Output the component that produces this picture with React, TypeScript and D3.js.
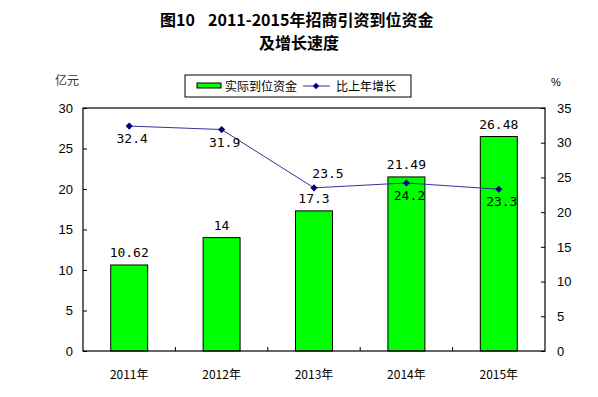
import { useEffect, useRef } from "react";
import * as d3 from "d3";

const years = ["2011年", "2012年", "2013年", "2014年", "2015年"];
const funds = [10.62, 14, 17.3, 21.49, 26.48];
const growth = [32.4, 31.9, 23.5, 24.2, 23.3];
const fundLabels = ["10.62", "14", "17.3", "21.49", "26.48"];
const growthLabels = ["32.4", "31.9", "23.5", "24.2", "23.3"];
const leftTicks = [0, 5, 10, 15, 20, 25, 30];
const rightTicks = [0, 5, 10, 15, 20, 25, 30, 35];

const W = 598;
const H = 397;
const margin = { top: 108, right: 53, bottom: 46, left: 83 };

export default function App() {
  const svgRef = useRef<SVGSVGElement | null>(null);

  useEffect(() => {
    if (!svgRef.current) return;
    const svg = d3.select(svgRef.current);
    svg.selectAll("*").remove();

    const innerW = W - margin.left - margin.right;
    const innerH = H - margin.top - margin.bottom;
    const axisFont = "'Liberation Sans', Arial, sans-serif";
    const numFont = "'DejaVu Sans Mono', monospace";
    const cjk = "'Noto Sans CJK SC', sans-serif";

    svg.append("rect").attr("width", W).attr("height", H).attr("fill", "#fff");

    // title
    const title = svg.append("g").attr("font-family", cjk).attr("font-weight", "bold").attr("font-size", 16).attr("fill", "#000");
    title.append("text").attr("x", 160).attr("y", 26).text("图10");
    title.append("text").attr("x", 208).attr("y", 26).text("2011-2015年招商引资到位资金");
    title.append("text").attr("x", 299).attr("y", 49).attr("text-anchor", "middle").text("及增长速度");

    const x = d3.scaleBand().domain(years).range([0, innerW]).paddingInner(0.6).paddingOuter(0.3);
    const yL = d3.scaleLinear().domain([0, 30]).range([innerH, 0]);
    const yR = d3.scaleLinear().domain([0, 35]).range([innerH, 0]);

    const g = svg.append("g").attr("transform", `translate(${margin.left},${margin.top})`);

    // bars
    g.selectAll("rect.bar")
      .data(funds)
      .enter()
      .append("rect")
      .attr("class", "bar")
      .attr("x", (_d, i) => x(years[i])!)
      .attr("y", (d) => yL(d))
      .attr("width", x.bandwidth())
      .attr("height", (d) => innerH - yL(d))
      .attr("fill", "#00ff00")
      .attr("stroke", "#000")
      .attr("stroke-width", 1);

    g.selectAll("text.blab")
      .data(funds)
      .enter()
      .append("text")
      .attr("x", (_d, i) => x(years[i])! + x.bandwidth() / 2)
      .attr("y", (d) => yL(d) - 8)
      .attr("text-anchor", "middle")
      .attr("font-family", numFont)
      .attr("font-size", 13)
      .text((_d, i) => fundLabels[i]);

    // frame
    g.append("rect")
      .attr("width", innerW)
      .attr("height", innerH)
      .attr("fill", "none")
      .attr("stroke", "#000")
      .attr("stroke-width", 1.2);

    // left axis
    const la = g.append("g").call(d3.axisLeft(yL).tickValues(leftTicks).tickSizeInner(-4).tickSizeOuter(0).tickPadding(10));
    la.select(".domain").remove();
    la.selectAll("text").attr("font-family", axisFont).attr("font-size", 13).attr("fill", "#000");

    // right axis
    const ra = g.append("g").attr("transform", `translate(${innerW},0)`)
      .call(d3.axisRight(yR).tickValues(rightTicks).tickSizeInner(-4).tickSizeOuter(0).tickPadding(12));
    ra.select(".domain").remove();
    ra.selectAll("text").attr("font-family", axisFont).attr("font-size", 13).attr("fill", "#000");

    // bottom axis: category boundary ticks
    const bounds = years.slice(1).map((yr) => x(yr)! - (x.step() * x.paddingInner()) / 2);
    g.selectAll("line.bt")
      .data(bounds)
      .enter()
      .append("line")
      .attr("x1", (d) => d)
      .attr("x2", (d) => d)
      .attr("y1", innerH)
      .attr("y2", innerH - 4)
      .attr("stroke", "#000");

    g.selectAll("text.cat")
      .data(years)
      .enter()
      .append("text")
      .attr("x", (d) => x(d)! + x.bandwidth() / 2)
      .attr("y", innerH + 28)
      .attr("text-anchor", "middle")
      .attr("font-family", cjk)
      .attr("font-size", 12)
      .text((d) => d);

    // growth line
    const cx = (i: number) => x(years[i])! + x.bandwidth() / 2;
    const ln = d3.line<number>().x((_d, i) => cx(i)).y((d) => yR(d));
    g.append("path").datum(growth).attr("d", ln).attr("fill", "none").attr("stroke", "#333399").attr("stroke-width", 1);

    g.selectAll("path.mk")
      .data(growth)
      .enter()
      .append("path")
      .attr("d", d3.symbol().type(d3.symbolSquare).size(26))
      .attr("transform", (d, i) => `translate(${cx(i)},${yR(d)}) rotate(45)`)
      .attr("fill", "#000080");

    g.selectAll("text.glab")
      .data(growth)
      .enter()
      .append("text")
      .attr("x", (_d, i) => cx(i) + (i === 2 ? 14 : 3))
      .attr("y", (d, i) => (i === 2 ? yR(d) - 10 : yR(d) + 17))
      .attr("text-anchor", "middle")
      .attr("font-family", numFont)
      .attr("font-size", 13)
      .text((_d, i) => growthLabels[i]);

    // unit labels
    svg.append("text").attr("x", 67).attr("y", 85).attr("text-anchor", "middle").attr("font-family", cjk).attr("font-size", 12).attr("fill", "#333").text("亿元");
    svg.append("text").attr("x", 556).attr("y", 86).attr("text-anchor", "middle").attr("font-family", axisFont).attr("font-size", 11).text("%");

    // legend
    const lg = svg.append("g");
    lg.append("rect").attr("x", 185).attr("y", 75).attr("width", 226).attr("height", 22).attr("fill", "#fff").attr("stroke", "#000");
    lg.append("rect").attr("x", 197).attr("y", 83).attr("width", 24).attr("height", 5).attr("fill", "#00ff00").attr("stroke", "#000");
    lg.append("text").attr("x", 225).attr("y", 91).attr("font-family", cjk).attr("font-size", 12).text("实际到位资金");
    lg.append("line").attr("x1", 303).attr("x2", 330).attr("y1", 86).attr("y2", 86).attr("stroke", "#333399");
    lg.append("path").attr("d", d3.symbol().type(d3.symbolSquare).size(20)).attr("transform", "translate(316,86) rotate(45)").attr("fill", "#000080");
    lg.append("text").attr("x", 336).attr("y", 91).attr("font-family", cjk).attr("font-size", 12).text("比上年增长");
  }, []);

  return (
    <svg
      ref={svgRef}
      width={W}
      height={H}
      style={{ position: "absolute", left: 0, top: 0 }}
    ></svg>
  );
}
